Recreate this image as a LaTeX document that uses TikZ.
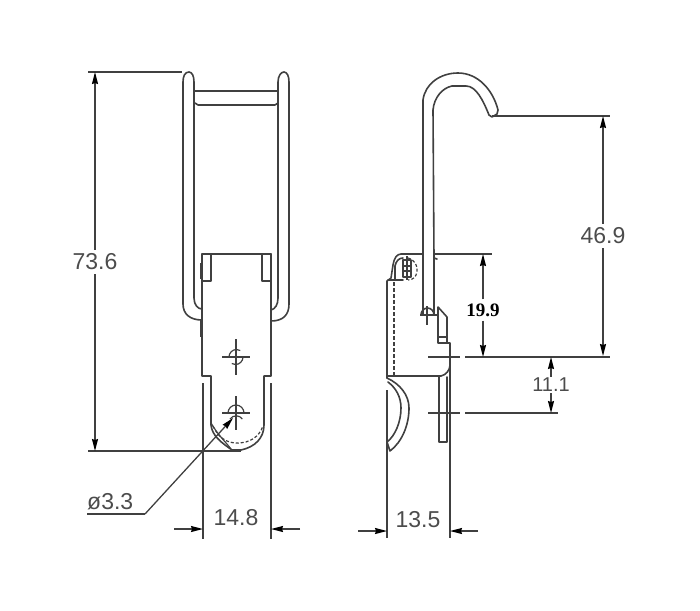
\documentclass[tikz,border=0pt]{standalone}
\usepackage{fontspec}
\setmainfont{Liberation Sans}
\newfontfamily\serifb{Liberation Serif}
\usetikzlibrary{arrows.meta}
\definecolor{ink}{gray}{0.25}
\definecolor{txt}{gray}{0.3}
\tikzset{
  part/.style={draw=ink,line width=1.6pt,line join=round,line cap=round},
  thin part/.style={draw=ink,line width=1.2pt},
  dimline/.style={draw=ink,line width=1.3pt},
  tip/.style={-{Stealth[length=12pt,width=6pt,inset=1pt,black]}},
  dimtext/.style={text=txt,font=\fontsize{23}{25}\selectfont,inner sep=0pt},
  hid/.style={draw=ink,line width=1.4pt,dash pattern=on 4pt off 2pt},
  thick part/.style={draw=ink,line width=2.4pt}
}
\begin{document}
\begin{tikzpicture}[x=1pt,y=-1pt]
\useasboundingbox (0,0) rectangle (700,610);
% ---- front view: prongs
\draw[part] (202,320) .. controls (190,320) and (183,314) .. (183,304) -- (183,82)
   .. controls (183,76) and (185,72) .. (189,72) .. controls (192,72) and (194,76) .. (194,82) -- (194,298)
   .. controls (194,305) and (198,309) .. (202,309);
\draw[part] (271,321) .. controls (283,321) and (289,315) .. (289,304) -- (289,82)
   .. controls (289,76) and (287,72) .. (284,72) .. controls (281,72) and (278,76) .. (278,82) -- (278,298)
   .. controls (278,305) and (275,309) .. (271,310);
\draw[part] (194,91) -- (278,91);
\draw[part] (195,103) -- (198,105) -- (275,105) -- (278,103);
% ---- front view: plate
\draw[part] (202,254) -- (271,254);
\draw[part] (202,254) -- (202,376) -- (211,376) -- (211,382) -- (211,425)
   .. controls (212,436) and (222,443) .. (232,450) -- (241,450)
   .. controls (255,447) and (264,438) .. (264,425) -- (264,382) -- (264,376) -- (271,376) -- (271,254);
\draw[part] (202,281) -- (211,281) -- (211,254);
\draw[part] (271,281) -- (262,281) -- (262,254);
\draw[thick part] (201,263) -- (201,279);
\draw[thick part] (201,320) -- (201,337);
\draw[thick part] (262,256) -- (262,280);
\draw[thin part,densely dashed] (213,426) .. controls (218,437) and (226,443) .. (237,443)
   .. controls (250,443) and (259,437) .. (263,426);
\draw[thin part] (211,423) .. controls (218,435) and (224,440) .. (231,449);
% holes
\draw[thin part] (236,339) -- (236,375) (222,357) -- (250,357);
\draw[thin part] (236,396) -- (236,430) (222,413) -- (250,413);
\draw[thin part] (229,357) arc (180:300:7.5) (243,357) arc (0:120:7.5);
\draw[thin part] (228,413) arc (180:360:8);
\draw[thin part] (230,419) arc (215:325:7.5);
% ---- front view: dimensions
\coordinate (topL) at (95,72);
\coordinate (botL) at (95,451);
\draw[dimline] (88,72) -- (182,72);
\draw[dimline] (88,451) -- (241,451);
\node[dimtext] (d736) at (95,262) {73.6};
\draw[dimline,tip] (d736.north) ++(0,-4) -- (topL);
\draw[dimline,tip] (d736.south) ++(0,4) -- (botL);
\coordinate (lx1) at (203,383);\coordinate (lx1b) at (203,539);
\coordinate (lx2) at (271,383);\coordinate (lx2b) at (271,539);
\draw[dimline] (lx1) -- (lx1b);
\draw[dimline] (lx2) -- (lx2b);
\node[dimtext] (d148) at (236,518) {14.8};
\coordinate (a1) at (174,529);\coordinate (a1e) at (203,529);
\coordinate (a2) at (300,529);\coordinate (a2e) at (271,529);
\draw[dimline,tip] (a1) -- (a1e);
\draw[dimline,tip] (a2) -- (a2e);
\node[dimtext,anchor=west,font=\fontsize{23}{25}\selectfont] (d33) at (87,502) {ø3.3};
\coordinate (ld0) at (87,514);\coordinate (ld1) at (145,514);\coordinate (ld2) at (233,418);
\draw[dimline] (ld0) -- (ld1);
\draw[dimline,tip] (ld1) -- (ld2);
% ---- side view: hook
\draw[part] (423,315) -- (423,100) .. controls (425,84) and (440,73) .. (458,73)
   .. controls (478,73) and (493,90) .. (498,110) -- (497,114) -- (492,117) -- (489,115)
   .. controls (483,100) and (476,86) .. (466,86) -- (452,86)
   .. controls (442,88) and (434,98) .. (433,110) -- (434,258) -- (434,315);
\draw[part] (434,258) -- (437,259);
\draw[thin part] (420,315) -- (438,315);
\draw[thin part] (427,306) -- (427,325);
\draw[part] (421,315) arc (180:360:6.5 and 7);
% ---- side view: pivot and body
\draw[part] (387,378) -- (387,281) -- (391,278) -- (393,265) .. controls (394,258) and (397,254) .. (401,254);
\draw[part] (388,280) -- (403,280);
\draw[part] (395,279) -- (395,266) .. controls (396,261) and (399,258) .. (403,258);
\draw[part] (403,260) -- (403,277) -- (411,277) -- (411,260) -- cycle;
\draw[thin part] (403,266) -- (411,266) (403,271) -- (411,271) (407,256) -- (407,280);
\draw[thin part,densely dashed] (408,258) .. controls (415,260) and (418,266) .. (417,272) .. controls (416,277) and (413,280) .. (408,280);
\draw[hid] (394,282) -- (394,376);
\draw[part] (387,376) -- (441,376) .. controls (446,375) and (450,370) .. (450,365) -- (450,343) -- (447,343) -- (438,343) -- (438,307) -- (447,317) -- (447,343);
\draw[part] (438,337) -- (447,337);
\draw[part] (439,377) -- (439,442) -- (447,442) -- (447,377);
\draw[part] (387,378) .. controls (400,384) and (409,395) .. (409,408)
   .. controls (409,425) and (402,442) .. (390,451) -- (387,442)
   .. controls (395,436) and (401,422) .. (401,408) .. controls (401,397) and (396,388) .. (388,382);
% ---- side view: dimensions
\draw[dimline] (401,254) -- (423,254) (434,254) -- (492,254);
\coordinate (e46t) at (603,116);\coordinate (e46b) at (603,356);
\draw[dimline] (492,116) -- (610,116);
\draw[dimline] (428,357) -- (460,357);
\draw[dimline] (465,357) -- (610,357);
\draw[dimline] (428,413) -- (460,413);
\draw[dimline] (465,413) -- (558,413);
\draw[dimline] (450,345) -- (450,538);
\draw[dimline] (387,390) -- (387,538);
\node[dimtext] (d469) at (603,236) {46.9};
\draw[dimline,tip] (d469.north) ++(0,-4) -- (e46t);
\draw[dimline,tip] (d469.south) ++(0,4) -- (e46b);
\node[inner sep=0pt,font=\serifb\bfseries\fontsize{19}{21}\selectfont,text=black] (d199) at (483,310) {19.9};
\coordinate (e19t) at (483,254);\coordinate (e19b) at (483,357);
\draw[dimline,tip] (d199.north) ++(0,-4) -- (e19t);
\draw[dimline,tip] (d199.south) ++(0,4) -- (e19b);
\node[dimtext,font=\fontsize{20}{22}\selectfont] (d111) at (551,385) {11.1};
\coordinate (e11t) at (551,357);\coordinate (e11b) at (551,413);
\draw[dimline,tip] (d111.north) ++(0,-1) -- (e11t);
\draw[dimline,tip] (d111.south) ++(0,1) -- (e11b);
\node[dimtext] (d135) at (418,520) {13.5};
\coordinate (b1) at (358,531);\coordinate (b1e) at (387,531);
\coordinate (b2) at (478,531);\coordinate (b2e) at (450,531);
\draw[dimline,tip] (b1) -- (b1e);
\draw[dimline,tip] (b2) -- (b2e);
\end{tikzpicture}
\end{document}
